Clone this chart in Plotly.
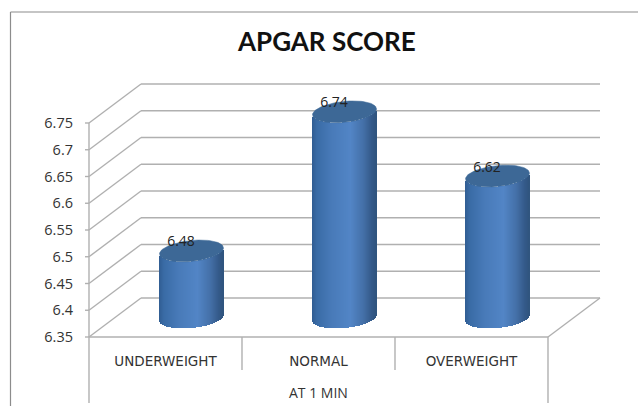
import plotly.graph_objects as go
import numpy as np

title = "APGAR SCORE"
categories = ["UNDERWEIGHT", "NORMAL", "OVERWEIGHT"]
group_label = "AT 1 MIN"
values = [6.48, 6.74, 6.62]
tick_values = [6.35, 6.4, 6.45, 6.5, 6.55, 6.6, 6.65, 6.7, 6.75]
tick_labels = ["6.35", "6.4", "6.45", "6.5", "6.55", "6.6", "6.65", "6.7", "6.75"]

W, H = 638, 406
PX_PER_CAT = 153.0
PX_PER_UNIT = 535.0
AX_LEFT, AX_BOTTOM = 89, 337
pad = 4
DEPTH_X = 52 / PX_PER_CAT
DEPTH_Y = 39 / PX_PER_UNIT
GRID = "#b0b0b0"

l, r, t, b = AX_LEFT - pad, 33, 80, H - AX_BOTTOM - pad
plot_w, plot_h = W - l - r, H - t - b
x_range = [-pad / PX_PER_CAT, (plot_w - pad) / PX_PER_CAT]
y_range = [tick_values[0] - pad / PX_PER_UNIT, tick_values[0] + (plot_h - pad) / PX_PER_UNIT]

def line(x0, y0, x1, y1, color=GRID, width=1.4):
    return dict(type="line", xref="x", yref="y", x0=x0, y0=y0, x1=x1, y1=y1,
                layer="below", line=dict(color=color, width=width))

def paper_x(px):
    return (px - l) / plot_w

def paper_y(py):
    return (H - b - py) / plot_h

def paper_line(px0, py0, px1, py1, color=GRID, width=1.4):
    return dict(type="line", xref="paper", yref="paper",
                x0=paper_x(px0), y0=paper_y(py0), x1=paper_x(px1), y1=paper_y(py1),
                layer="below", line=dict(color=color, width=width))

n = len(categories)
shapes = []
for v in tick_values:
    shapes.append(line(0, v, DEPTH_X, v + DEPTH_Y))
    shapes.append(line(DEPTH_X, v + DEPTH_Y, n + DEPTH_X, v + DEPTH_Y))
    shapes.append(line(-5 / PX_PER_CAT, v, 0, v))
shapes.append(line(0, tick_values[0], 0, tick_values[-1]))
shapes.append(line(0, tick_values[0], n, tick_values[0]))
shapes.append(line(n, tick_values[0], n + DEPTH_X, tick_values[0] + DEPTH_Y))

# category separators below the axis
for i in range(n + 1):
    px = AX_LEFT + i * PX_PER_CAT
    shapes.append(paper_line(px, AX_BOTTOM, px, 403 if i in (0, n) else 370))
# outer frame of the chart
shapes.append(paper_line(10.5, 12, 10.5, H, "#8c8c8c", 1.2))
shapes.append(paper_line(10.5, 12, W, 12, "#8c8c8c", 1.2))

# cylinder shading
stops_t = [0.0, 0.08, 0.3, 0.6, 0.8, 0.93, 1.0]
stops_c = [(48, 92, 146), (58, 108, 166), (72, 122, 184), (82, 133, 198),
           (68, 112, 168), (52, 90, 138), (48, 84, 126)]

def shade(t):
    c = [np.interp(t, stops_t, [s[i] for s in stops_c]) for i in range(3)]
    return "rgb(%d,%d,%d)" % tuple(int(round(k)) for k in c)

RADIUS = 32 / PX_PER_CAT
ELL_Y = 10.5 / PX_PER_UNIT
TILT = 3.0 / PX_PER_UNIT
MID_Y = DEPTH_Y / 2
BAR_DX = 26 / PX_PER_CAT

fig = go.Figure()
for i, v in enumerate(values):
    cx = i + 0.5 + BAR_DX
    top_c = v + MID_Y - 3 / PX_PER_UNIT
    edges = np.arange(-32, 33) / PX_PER_CAT
    mids = (edges[:-1] + edges[1:]) / 2
    u = mids / RADIUS
    curve = ELL_Y * np.sqrt(1 - u ** 2) - TILT * u
    low = tick_values[0] + MID_Y - curve
    top = top_c - curve
    fig.add_trace(go.Bar(
        x=cx + mids, y=top - low, base=low, width=1.25 / PX_PER_CAT,
        marker=dict(color=[shade((k + 1) / 2) for k in u], line=dict(width=0)),
        hoverinfo="skip", showlegend=False))
    th = np.linspace(0, 2 * np.pi, 80)
    fig.add_trace(go.Scatter(
        x=cx + RADIUS * np.cos(th),
        y=top_c + ELL_Y * np.sin(th) + TILT * np.cos(th),
        mode="lines", fill="toself", fillcolor="#3d6896",
        line=dict(color="#3d6896", width=0.5),
        hoverinfo="skip", showlegend=False))
    fig.add_trace(go.Scatter(
        x=[cx - 10.5 / PX_PER_CAT], y=[top_c + 8 / PX_PER_UNIT], mode="text",
        text=["%.2f" % v], textposition="middle center",
        textfont=dict(family="Open Sans", size=14, color="#222222"),
        hoverinfo="skip", showlegend=False))

fig.update_layout(
    width=W, height=H, margin=dict(l=l, r=r, t=t, b=b),
    paper_bgcolor="white", plot_bgcolor="white",
    barmode="overlay", bargap=0, showlegend=False, shapes=shapes,
    xaxis=dict(range=x_range, tickmode="array", tickvals=[i + 0.5 for i in range(n)],
               ticktext=categories, showgrid=False, zeroline=False, showline=False,
               ticks="", ticklabelstandoff=10,
               tickfont=dict(family="DejaVu Sans", size=13.5, color="#333333")),
    yaxis=dict(range=y_range, tickmode="array", tickvals=tick_values, ticktext=tick_labels,
               showgrid=False, zeroline=False, showline=False, ticks="", ticklabelstandoff=11,
               tickfont=dict(family="Open Sans", size=14.5, color="#333333")),
    annotations=[
        dict(text=title, xref="paper", yref="paper", x=paper_x(326), y=paper_y(41),
             xanchor="center", yanchor="middle", showarrow=False,
             font=dict(family="Lato", size=26, color="#111111", weight="bold")),
        dict(text=group_label, xref="x", yref="paper", x=n / 2, y=paper_y(392),
             xanchor="center", yanchor="middle", showarrow=False,
             font=dict(family="Open Sans", size=14, color="#333333")),
    ],
)
fig.write_html("out.html", config=dict(displayModeBar=False),
               post_script="document.body.style.margin='0';")
